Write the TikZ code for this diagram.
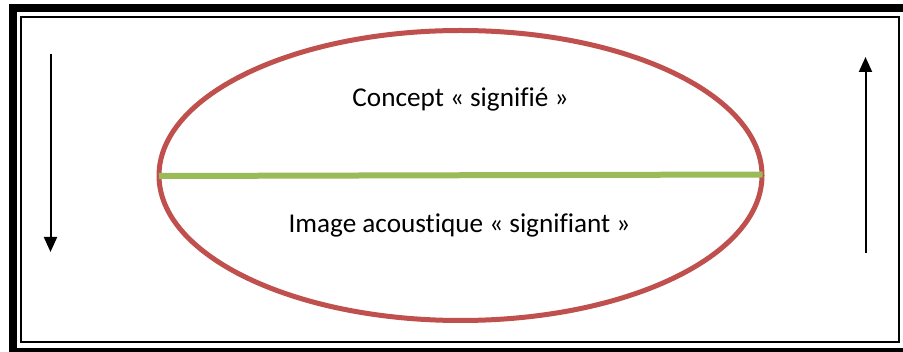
\documentclass[tikz,border=0pt]{standalone}
\usepackage{fontspec}
\setmainfont[Ligatures={NoCommon,NoRare}]{Carlito}
\usetikzlibrary{arrows.meta}
\definecolor{ellred}{HTML}{C0504D}
\definecolor{barg}{HTML}{9BBB59}
\begin{document}
\begin{tikzpicture}[x=1pt,y=-1pt,
  thickframe/.style={line width=8pt},
  thinframe/.style={line width=2pt},
  flowarrow/.style={line width=2pt,-{Triangle[length=15pt,width=13pt]}},
  label/.style={font=\fontsize{27.2}{30}\selectfont,anchor=base,inner sep=0pt}]
\useasboundingbox (0,0) rectangle (903,352);
\clip (0,0) rectangle (903,352);
\fill[white] (0,0) rectangle (903,352);
% frame
\draw[thickframe] (13,8) rectangle (908,352);
\draw[thinframe] (21,17) rectangle (899,342);
% ellipse
\draw[ellred,line width=5pt] (460.5,175.5) ellipse [x radius=301.5, y radius=145];
% bar
\coordinate (bl) at (159,176);
\coordinate (br) at (762.5,174.5);
\draw[barg,line width=6pt] (bl) -- (br);
% texts
\node[label] (sig) at (460.5,107) {Concept « signifié »};
\node[label] (sigt) at (459.5,233) {Image acoustique « signifiant »};
% arrows
\coordinate (la) at (50.5,54);
\coordinate (lb) at (50.5,252);
\draw[flowarrow] (la) -- (lb);
\coordinate (ra) at (865.5,253);
\coordinate (rb) at (865.5,57);
\draw[flowarrow] (ra) -- (rb);
\end{tikzpicture}
\end{document}
